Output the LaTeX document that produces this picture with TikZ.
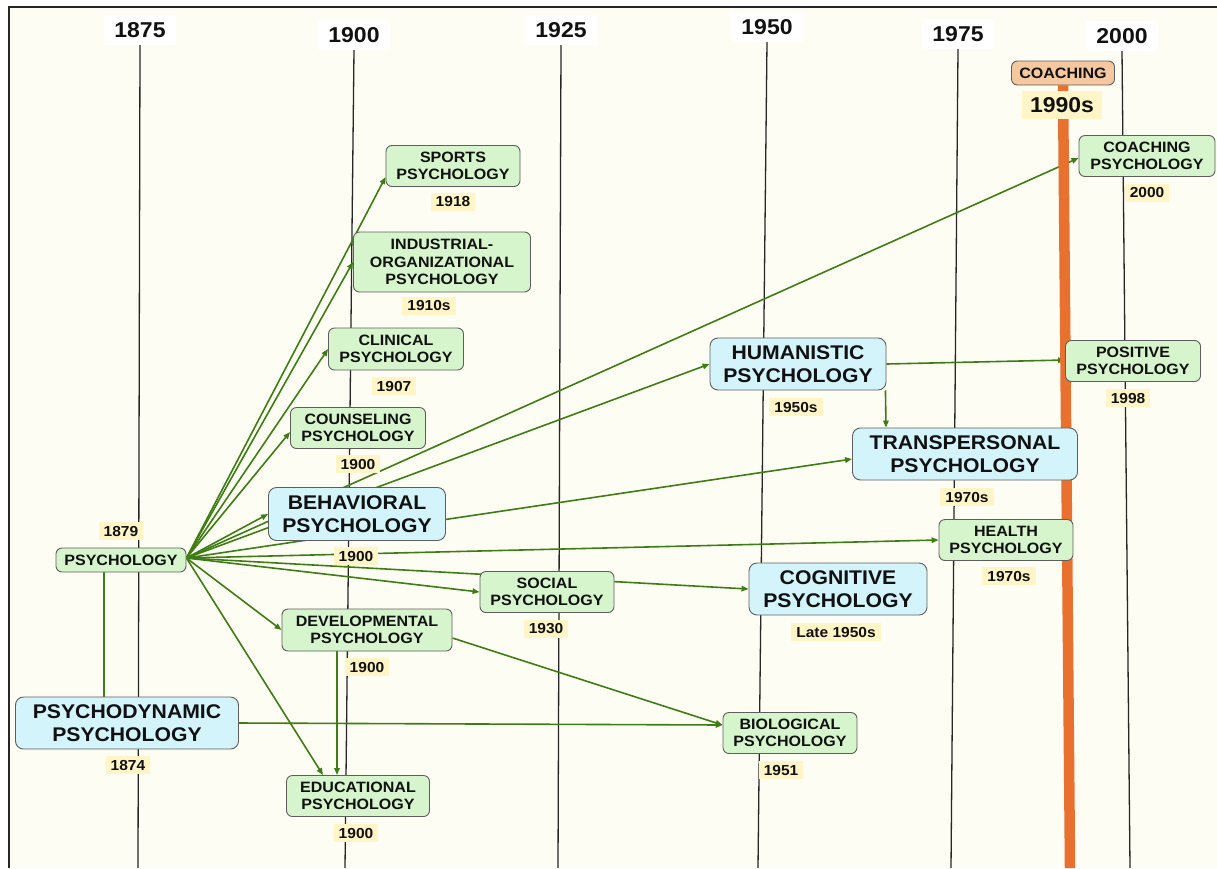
\documentclass[tikz,border=0pt]{standalone}
\usepackage{fontspec}
\setmainfont{Liberation Sans}[FakeStretch=1.07]
\usetikzlibrary{arrows.meta}

\definecolor{paper}{HTML}{FEFDF3}
\definecolor{greenfill}{HTML}{D6F5CD}
\definecolor{bluefill}{HTML}{D3F4FB}
\definecolor{datefill}{HTML}{FFF5C6}
\definecolor{edgegreen}{HTML}{3E7D15}
\definecolor{barorange}{HTML}{E8712F}
\definecolor{coachfill}{HTML}{F5C8A0}
\definecolor{boxline}{HTML}{5E5E5E}
\definecolor{ink}{HTML}{111111}

\pgfdeclarelayer{back}
\pgfdeclarelayer{links}
\pgfdeclarelayer{bar}
\pgfsetlayers{back,links,bar,main}

\begin{document}
\begin{tikzpicture}[x=1pt,y=-1pt,
  field/.style={draw=boxline, line width=0.9pt, rounded corners=6pt, align=center,
    inner sep=0pt, text=ink, font=\fontsize{15}{17.5}\selectfont\bfseries},
  minor/.style={field, fill=greenfill},
  major/.style={field, fill=bluefill, rounded corners=8pt,
    font=\fontsize{19.8}{23.3}\selectfont\bfseries},
  datetag/.style={fill=datefill, inner xsep=5pt, inner ysep=3.5pt, text=ink,
    font=\fontsize{14.5}{16}\selectfont\bfseries},
  yeartag/.style={fill=white, inner xsep=10pt, inner ysep=7pt, text=ink,
    font=\fontsize{21.5}{24}\selectfont\bfseries},
  yearline/.style={draw=black!85, line width=1.3pt},
  link/.style={draw=edgegreen, line width=1.6pt, -{Triangle[length=7pt,width=5.5pt]}},
  plainlink/.style={draw=edgegreen, line width=1.6pt},
]
\useasboundingbox (0,0) rectangle (1217,868);

% paper and frame
\begin{pgfonlayer}{back}
  \fill[white] (0,0) rectangle (1217,868);
  \fill[paper] (9,7) rectangle (1217,868);
  \draw[black!85, line width=1.8pt] (9,868) -- (9,7) -- (1217,7);
\end{pgfonlayer}

% year headings
\node[yeartag] (y1875) at (140,30) {1875};
\node[yeartag] (y1900) at (354,35) {1900};
\node[yeartag] (y1925) at (561,30) {1925};
\node[yeartag] (y1950) at (767,27) {1950};
\node[yeartag] (y1975) at (958,34) {1975};
\node[yeartag] (y2000) at (1122,36) {2000};

\coordinate (b1875) at (138,868);
\coordinate (b1900) at (345,868);
\coordinate (b1925) at (558,868);
\coordinate (b1950) at (758,868);
\coordinate (b1975) at (951,868);
\coordinate (b2000) at (1130,868);

\begin{pgfonlayer}{back}
  \foreach \yr in {1875,1900,1925,1950,1975,2000}
    \draw[yearline] (y\yr.south) -- (b\yr);
\end{pgfonlayer}

% fields
\node[minor, minimum width=130pt, minimum height=24pt] (psy) at (121,560) {PSYCHOLOGY};
\node[minor, minimum width=134pt, minimum height=41pt] (sports) at (453,166) {SPORTS\\PSYCHOLOGY};
\node[minor, minimum width=177pt, minimum height=60pt] (indorg) at (442,262) {INDUSTRIAL-\\ORGANIZATIONAL\\PSYCHOLOGY};
\node[minor, minimum width=135pt, minimum height=42pt] (clinical) at (396,349) {CLINICAL\\PSYCHOLOGY};
\node[minor, minimum width=135pt, minimum height=41pt] (counsel) at (358,428) {COUNSELING\\PSYCHOLOGY};
\node[minor, minimum width=134pt, minimum height=41pt] (social) at (547,592) {SOCIAL\\PSYCHOLOGY};
\node[minor, minimum width=170pt, minimum height=42pt] (devel) at (367,630) {DEVELOPMENTAL\\PSYCHOLOGY};
\node[minor, minimum width=143pt, minimum height=41pt] (educ) at (358,796) {EDUCATIONAL\\PSYCHOLOGY};
\node[minor, minimum width=134pt, minimum height=41pt] (bio) at (790,733) {BIOLOGICAL\\PSYCHOLOGY};
\node[minor, minimum width=134pt, minimum height=41pt] (health) at (1006,540) {HEALTH\\PSYCHOLOGY};
\node[minor, minimum width=135pt, minimum height=41pt] (positive) at (1133,361) {POSITIVE\\PSYCHOLOGY};
\node[minor, minimum width=136pt, minimum height=41pt] (coachpsy) at (1147,156) {COACHING\\PSYCHOLOGY};
\node[major, minimum width=177pt, minimum height=53pt] (behav) at (357,514) {BEHAVIORAL\\PSYCHOLOGY};
\node[major, minimum width=176pt, minimum height=52pt] (human) at (798,364) {HUMANISTIC\\PSYCHOLOGY};
\node[major, minimum width=225pt, minimum height=52pt] (transp) at (965,454) {TRANSPERSONAL\\PSYCHOLOGY};
\node[major, minimum width=178pt, minimum height=52pt] (cogn) at (838,589) {COGNITIVE\\PSYCHOLOGY};
\node[major, minimum width=223pt, minimum height=52pt] (psydyn) at (127,723) {PSYCHODYNAMIC\\PSYCHOLOGY};
\node[field, fill=coachfill, minimum width=103pt, minimum height=24pt] (coach) at (1063,73) {COACHING};

% dates
\node[datetag] (d1879) at (121,531) {1879};
\node[datetag] (d1918) at (453,202) {1918};
\node[datetag] (d1910) at (429,306) {1910s};
\node[datetag] (d1907) at (394,386) {1907};
\node[datetag] (dcouns) at (358,464) {1900};
\node[datetag] (dbehav) at (356,556) {1900};
\node[datetag] (d1930) at (546,629) {1930};
\node[datetag] (ddevel) at (367,667) {1900};
\node[datetag] (deduc) at (356,833) {1900};
\node[datetag] (d1874) at (128,765) {1874};
\node[datetag] (d1950) at (796,407) {1950s};
\node[datetag] (dtransp) at (967,497) {1970s};
\node[datetag] (dlate) at (836,632) {Late 1950s};
\node[datetag] (d1951) at (781,770) {1951};
\node[datetag] (dhealth) at (1009,576) {1970s};
\node[datetag] (d1998) at (1128,398) {1998};
\node[datetag] (d2000) at (1147,193) {2000};
\node[datetag, inner xsep=8pt, inner ysep=6pt,
  font=\fontsize{21.5}{24}\selectfont\bfseries] (d1990) at (1062,105) {1990s};

% coaching band
\coordinate (barend) at (1070,868);
\begin{pgfonlayer}{bar}
  \draw[barorange, line width=10.5pt] (coach.south) -- (barend);
\end{pgfonlayer}

% connectors
\coordinate (fan) at ([yshift=2pt]psy.east);
\begin{pgfonlayer}{links}
  \draw[link] (fan) -- ([yshift=-11pt]sports.west);
  \draw[link] (fan) -- (indorg.west);
  \draw[link] (fan) -- (clinical.west);
  \draw[link] (fan) -- ([yshift=-4pt]counsel.west);
  \draw[link] (fan) -- (behav.west);
  \draw[link] (fan) -- ([yshift=-2pt]coachpsy.west);
  \draw[link] (fan) -- (human.west);
  \draw[link] (fan) -- ([yshift=-5pt]transp.west);
  \draw[link] (fan) -- (health.west);
  \draw[link] (fan) -- (cogn.west);
  \draw[link] (fan) -- (social.west);
  \draw[link] (fan) -- (devel.west);
  \draw[link] (fan) -- ([xshift=-35pt]educ.north);
  \draw[link] ([xshift=-30pt]devel.south) -- ([xshift=-21pt]educ.north);
  \draw[link] ([yshift=-8pt]devel.east) -- ([yshift=8pt]bio.west);
  \draw[link] (psydyn.east) -- ([yshift=8pt]bio.west);
  \draw[plainlink] ([xshift=-17pt]psy.south) -- ([xshift=-23pt]psydyn.north);
  \draw[link] ([xshift=-1pt]human.south east) -- ([xshift=-79pt]transp.north);
  \draw[link] (human.east) -- ([yshift=1pt]positive.west);
\end{pgfonlayer}

\end{tikzpicture}
\end{document}
